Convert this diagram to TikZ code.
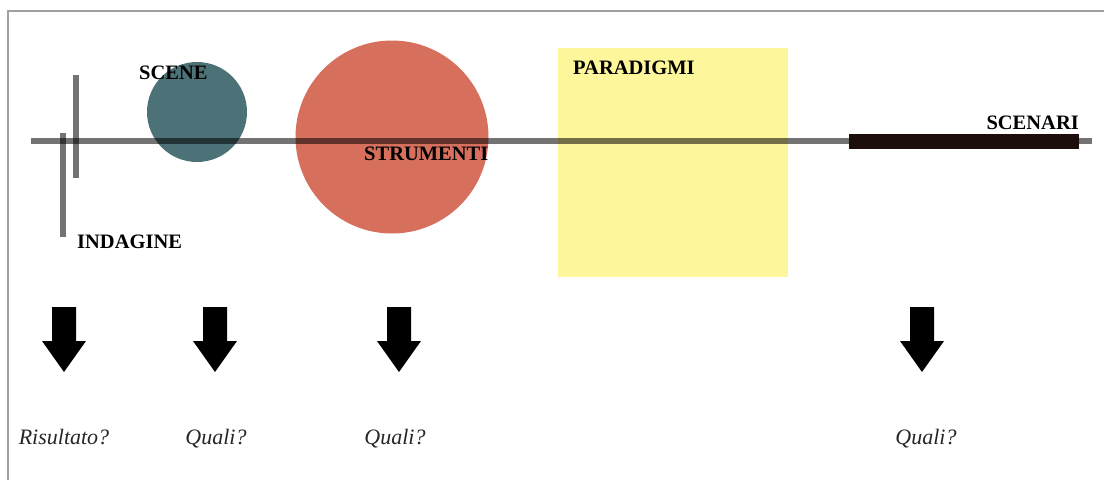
\documentclass[tikz,border=0pt]{standalone}
\usepackage{fontspec}
\setmainfont{Liberation Serif}
\definecolor{tealc}{RGB}{76,114,119}
\definecolor{redc}{RGB}{214,112,93}
\definecolor{yellowc}{RGB}{253,246,155}
\definecolor{barc}{RGB}{28,14,10}
\definecolor{framec}{RGB}{160,160,160}
\begin{document}
\begin{tikzpicture}[x=1pt,y=-1pt,
  lbl/.style={inner sep=0pt,font=\fontsize{20.5}{24}\selectfont\bfseries,text=black},
  qlbl/.style={inner sep=0pt,font=\fontsize{22}{26}\selectfont\itshape,text=black!85,anchor=base},
  axisline/.style={line width=6pt,black,opacity=0.55},
  darrow/.pic={\fill[black] (-12,0) -- (12,0) -- (12,34) -- (22,34) -- (0,65) -- (-22,34) -- (-12,34) -- cycle;}]
\useasboundingbox (0,0) rectangle (1104,480);
% frame
\draw[framec,line width=1.8pt] (8,480) -- (8,11) -- (1104,11);
% shapes
\fill[tealc] (197,112) circle (50);
\fill[redc] (392,137) circle (96.5);
\fill[yellowc] (558,48) rectangle (788,277);
% axis lines
\coordinate (axL) at (31,141);
\coordinate (axR) at (1092,141);
\draw[axisline] (axL) -- (axR);
\coordinate (v1t) at (76,75);
\coordinate (v1b) at (76,178);
\draw[axisline] (v1t) -- (v1b);
\coordinate (v2t) at (63,133);
\coordinate (v2b) at (63,237);
\draw[axisline] (v2t) -- (v2b);
% black bar
\coordinate (bL) at (849,141);
\coordinate (bR) at (1079,141);
\draw[barc,line width=15pt] (bL) -- (bR);
% labels
\node[lbl,anchor=base west] (scene) at (139,79) {SCENE};
\node[lbl,anchor=base west] (indagine) at (77,248) {INDAGINE};
\node[lbl,anchor=base west] (strumenti) at (364,160) {STRUMENTI};
\node[lbl,anchor=base west] (paradigmi) at (573,74) {PARADIGMI};
\node[lbl,anchor=base east] (scenari) at (1079,129) {SCENARI};
% arrows
\pic at (64,307) {darrow};
\pic at (215,307) {darrow};
\pic at (399,307) {darrow};
\pic at (922,307) {darrow};
% questions
\node[qlbl] (q1) at (64,444) {Risultato?};
\node[qlbl] (q2) at (216,444) {Quali?};
\node[qlbl] (q3) at (395,444) {Quali?};
\node[qlbl] (q4) at (926,444) {Quali?};
\end{tikzpicture}
\end{document}
